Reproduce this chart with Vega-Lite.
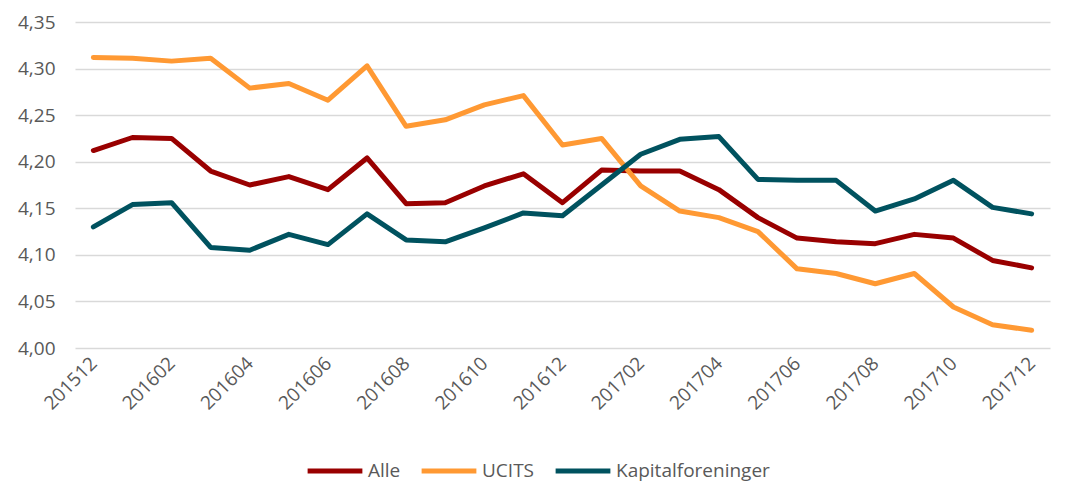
{
  "$schema": "https://vega.github.io/schema/vega-lite/v6.json",
  "width": 975,
  "height": 326,
  "autosize": "none",
  "padding": {"left": 75, "top": 22, "right": 17, "bottom": 137},
  "background": "white",
  "config": {"view": {"stroke": null}, "font": "Open Sans"},
  "datasets": {
    "wide": [
      {"m": "201512", "Alle": 4.212, "UCITS": 4.312, "Kapitalforeninger": 4.130},
      {"m": "201601", "Alle": 4.226, "UCITS": 4.311, "Kapitalforeninger": 4.154},
      {"m": "201602", "Alle": 4.225, "UCITS": 4.308, "Kapitalforeninger": 4.156},
      {"m": "201603", "Alle": 4.190, "UCITS": 4.311, "Kapitalforeninger": 4.108},
      {"m": "201604", "Alle": 4.175, "UCITS": 4.279, "Kapitalforeninger": 4.105},
      {"m": "201605", "Alle": 4.184, "UCITS": 4.284, "Kapitalforeninger": 4.122},
      {"m": "201606", "Alle": 4.170, "UCITS": 4.266, "Kapitalforeninger": 4.111},
      {"m": "201607", "Alle": 4.204, "UCITS": 4.303, "Kapitalforeninger": 4.144},
      {"m": "201608", "Alle": 4.155, "UCITS": 4.238, "Kapitalforeninger": 4.116},
      {"m": "201609", "Alle": 4.156, "UCITS": 4.245, "Kapitalforeninger": 4.114},
      {"m": "201610", "Alle": 4.174, "UCITS": 4.261, "Kapitalforeninger": 4.129},
      {"m": "201611", "Alle": 4.187, "UCITS": 4.271, "Kapitalforeninger": 4.145},
      {"m": "201612", "Alle": 4.156, "UCITS": 4.218, "Kapitalforeninger": 4.142},
      {"m": "201701", "Alle": 4.191, "UCITS": 4.225, "Kapitalforeninger": 4.175},
      {"m": "201702", "Alle": 4.190, "UCITS": 4.174, "Kapitalforeninger": 4.208},
      {"m": "201703", "Alle": 4.190, "UCITS": 4.147, "Kapitalforeninger": 4.224},
      {"m": "201704", "Alle": 4.170, "UCITS": 4.140, "Kapitalforeninger": 4.227},
      {"m": "201705", "Alle": 4.140, "UCITS": 4.125, "Kapitalforeninger": 4.181},
      {"m": "201706", "Alle": 4.118, "UCITS": 4.085, "Kapitalforeninger": 4.180},
      {"m": "201707", "Alle": 4.114, "UCITS": 4.080, "Kapitalforeninger": 4.180},
      {"m": "201708", "Alle": 4.112, "UCITS": 4.069, "Kapitalforeninger": 4.147},
      {"m": "201709", "Alle": 4.122, "UCITS": 4.080, "Kapitalforeninger": 4.160},
      {"m": "201710", "Alle": 4.118, "UCITS": 4.044, "Kapitalforeninger": 4.180},
      {"m": "201711", "Alle": 4.094, "UCITS": 4.025, "Kapitalforeninger": 4.151},
      {"m": "201712", "Alle": 4.086, "UCITS": 4.019, "Kapitalforeninger": 4.144}
    ]
  },
  "data": {"name": "wide"},
  "transform": [
    {"fold": ["Alle", "UCITS", "Kapitalforeninger"], "as": ["serie", "v"]}
  ],
  "mark": {"type": "line", "strokeWidth": 5, "strokeCap": "round", "strokeJoin": "round"},
  "encoding": {
    "x": {
      "field": "m", "type": "ordinal",
      "scale": {"type": "point", "padding": 0.47},
      "axis": {
        "title": null,
        "values": ["201512","201602","201604","201606","201608","201610","201612","201702","201704","201706","201708","201710","201712"],
        "labelAngle": -45,
        "labelAlign": "right",
        "labelBaseline": "middle",
        "labelPadding": 12,
        "labelFontSize": 19,
        "labelColor": "#595959",
        "labelFont": "Open Sans",
        "ticks": false,
        "domain": false,
        "grid": false
      }
    },
    "y": {
      "field": "v", "type": "quantitative",
      "scale": {"domain": [4.0, 4.35], "zero": false, "nice": false},
      "axis": {
        "title": null,
        "values": [4.0, 4.05, 4.1, 4.15, 4.2, 4.25, 4.3, 4.35],
        "labelExpr": "replace(format(datum.value, '.2f'), '.', ',')",
        "labelFontSize": 19,
        "labelColor": "#595959",
        "labelFont": "Open Sans",
        "labelPadding": 20,
        "ticks": false,
        "domain": false,
        "grid": true,
        "gridColor": "#d9d9d9",
        "gridWidth": 1.5
      }
    },
    "color": {
      "field": "serie", "type": "nominal",
      "sort": ["Alle", "UCITS", "Kapitalforeninger"],
      "scale": {"domain": ["Alle", "UCITS", "Kapitalforeninger"], "range": ["#990000", "#ff9933", "#00525f"]},
      "legend": {
        "title": null,
        "orient": "none",
        "direction": "horizontal",
        "legendX": 230,
        "legendY": 419,
        "symbolType": "stroke",
        "symbolSize": 3000,
        "symbolStrokeWidth": 5,
        "labelFontSize": 19,
        "labelColor": "#595959",
        "labelFont": "Open Sans",
        "columnPadding": 10,
        "labelOffset": 3
      }
    }
  }
}
